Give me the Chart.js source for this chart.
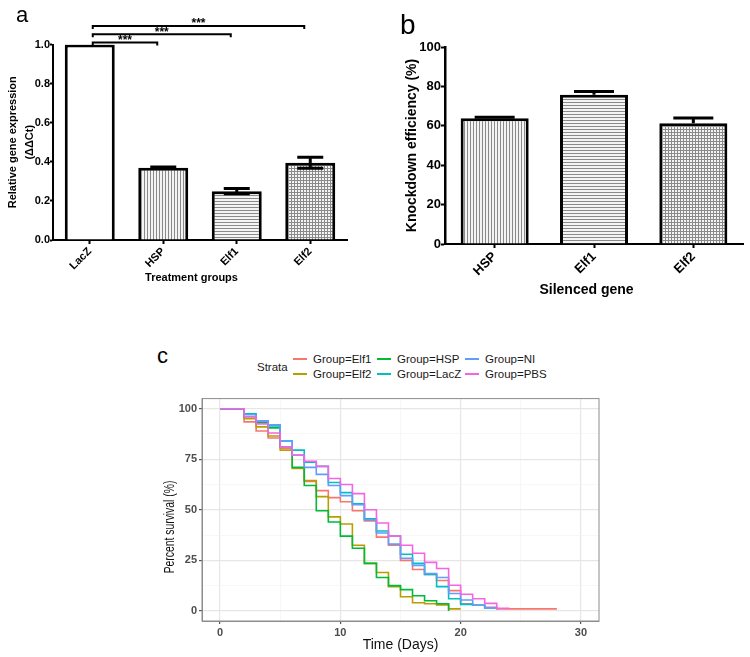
<!DOCTYPE html>
<html>
<head>
<meta charset="utf-8">
<script src="https://cdn.jsdelivr.net/npm/chart.js@4.4.0/dist/chart.umd.min.js"></script>
<style>
body { margin: 0; background: #fff; }
#fig { position: relative; width: 750px; height: 657px; overflow: hidden; font-family: 'Liberation Sans', Arial, sans-serif; }
#fig canvas { position: absolute; }
.panel-label { position: absolute; line-height: 1; color: #000; }
.leg-text { position: absolute; font-size: 11.5px; line-height: 14px; color: #1a1a1a; white-space: nowrap; }
.leg-key { position: absolute; width: 14px; height: 2px; }
</style>
</head>
<body>
<div id="fig">
    <canvas id="chartA" width="360" height="300" style="left:0;top:0"></canvas>
    <canvas id="chartB" width="370" height="310" style="left:380px;top:0"></canvas>
    <canvas id="chartC" width="470" height="267" style="left:150px;top:390px"></canvas>
    <div class="panel-label" style="left:16px;top:4px;font-size:22px">a</div>
    <div class="panel-label" style="left:400px;top:11px;font-size:28px">b</div>
    <div class="panel-label" style="left:157px;top:345px;font-size:22px">c</div>
    <div id="legendC"></div>
</div>
<script>
// panel a: relative expression
const groupsA = ['LacZ', 'HSP', 'Elf1', 'Elf2'];
const exprMean = [1.0, 0.37, 0.25, 0.395];
const exprErr = [0, 0.004, 0.014, 0.028];
const yTicksA = [0, 0.2, 0.4, 0.6, 0.8, 1.0];
const sigPairs = [[0, 1], [0, 2], [0, 3]];
const sigLabels = ['***', '***', '***'];

// panel b: knockdown efficiency
const genesB = ['HSP', 'Elf1', 'Elf2'];
const knockMean = [63.8, 75.7, 61.3];
const knockErr = [0.5, 1.7, 2.6];
const yTicksB = [0, 20, 40, 60, 80, 100];

// panel c: survival curves (one value per day, starting at day 0)
const survDays = [0, 1, 2, 3, 4, 5, 6, 7, 8, 9, 10, 11, 12, 13, 14, 15, 16, 17, 18, 19, 20, 21, 22, 23, 24, 25, 26, 27, 28];
const groupNames = ['Group=Elf1', 'Group=Elf2', 'Group=HSP', 'Group=LacZ', 'Group=NI', 'Group=PBS'];
const groupColors = ['#F8766D', '#B79F00', '#00BA38', '#00BFC4', '#619CFF', '#F564E3'];
const survElf1 = [100, 100, 93.5, 89, 85.5, 80.5, 77, 64, 59.5, 56, 54, 49.5, 44.5, 36.5, 32.5, 25, 20.5, 18, 15, 10, 3.5, 2.8, 1.8, 1, 1, 1, 1, 1, 1];
const survElf2 = [100, 100, 95, 91, 86.5, 79.5, 70.5, 64.5, 56.5, 46.5, 43, 32.5, 23.5, 19, 12, 7, 4, 3.5, 3, 1, 1];
const survHSP = [100, 100, 96, 93, 90.5, 81, 71, 62, 49.5, 44, 37, 31, 23.5, 16.5, 12.5, 10.5, 7.5, 5, 3.5, 0];
const survLacZ = [100, 100, 97.5, 94, 91.5, 84, 79.5, 73.5, 71.5, 63.5, 58.5, 53, 45.5, 39.5, 37, 28, 23.5, 18, 12, 6, 3.2, 2.8, 1.5, 0.8];
const survNI = [100, 100, 97, 94, 92, 84, 77, 71, 67.5, 62, 57, 52.5, 45, 38.5, 33, 26, 22.5, 18.5, 16.5, 8.6, 5.4, 2.8, 1.5, 0.8];
const survPBS = [100, 100, 96, 92.5, 88, 81, 77, 74, 71.5, 65.5, 62.5, 58, 50, 43.5, 37, 32.5, 28.5, 24, 21, 12.7, 8.2, 6, 3.7, 1.3, 0.8];
const survSeries = [survElf1, survElf2, survHSP, survLacZ, survNI, survPBS];
const xTicksC = [0, 10, 20, 30];
const yTicksC = [0, 25, 50, 75, 100];

const FONT = "'Liberation Sans', Arial, sans-serif";
Chart.defaults.font.family = FONT;
Chart.defaults.color = '#000';

// GraphPad-like hatch fills
function hatch(kind) {
    const c = document.createElement('canvas');
    c.width = 3; c.height = 3;
    const g = c.getContext('2d');
    g.fillStyle = '#f4f4f4';
    g.fillRect(0, 0, 3, 3);
    g.fillStyle = '#8a8a8a';
    if (kind !== 'h') g.fillRect(0, 0, 1, 3);
    if (kind !== 'v') g.fillRect(0, 0, 3, 1);
    return g.createPattern(c, 'repeat');
}

function errorBars(errs, cap, withLower) {
    return {
        id: 'errorBars',
        afterDatasetsDraw(chart) {
            const ctx = chart.ctx;
            const y = chart.scales.y;
            const means = chart.data.datasets[0].data;
            ctx.save();
            ctx.strokeStyle = '#000';
            ctx.lineWidth = 3;
            chart.getDatasetMeta(0).data.forEach((bar, i) => {
                const e = errs[i];
                if (!e) return;
                const top = y.getPixelForValue(means[i] + e);
                const bot = y.getPixelForValue(withLower ? means[i] - e : means[i]);
                ctx.beginPath();
                ctx.moveTo(bar.x, bot);
                ctx.lineTo(bar.x, top);
                ctx.moveTo(bar.x - cap / 2, top);
                ctx.lineTo(bar.x + cap / 2, top);
                if (withLower) {
                    ctx.moveTo(bar.x - cap / 2, bot);
                    ctx.lineTo(bar.x + cap / 2, bot);
                }
                ctx.stroke();
            });
            ctx.restore();
        }
    };
}

function freeText(items) {
    return {
        id: 'freeText',
        afterDraw(chart) {
            const ctx = chart.ctx;
            items.forEach(t => {
                ctx.save();
                ctx.translate(t.x, t.y);
                if (t.rotate) ctx.rotate(t.rotate);
                if (t.stretch) ctx.scale(t.stretch, 1);
                ctx.font = t.font;
                ctx.fillStyle = t.color || '#000';
                ctx.textAlign = 'center';
                ctx.textBaseline = 'middle';
                ctx.fillText(t.text, 0, 0);
                ctx.restore();
            });
        }
    };
}

const sigBrackets = {
    id: 'sigBrackets',
    afterDraw(chart) {
        const ctx = chart.ctx;
        const x = chart.scales.x;
        const top = chart.scales.y.getPixelForValue(yTicksA[yTicksA.length - 1]);
        ctx.save();
        ctx.lineWidth = 2;
        ctx.strokeStyle = '#000';
        ctx.fillStyle = '#000';
        ctx.font = 'bold 12px ' + FONT;
        ctx.textAlign = 'center';
        ctx.textBaseline = 'alphabetic';
        sigPairs.forEach(([a, b], k) => {
            const yy = top - 2 - k * 8.3;
            const x1 = x.getPixelForValue(a) + 3;
            const x2 = x.getPixelForValue(b) - 6;
            ctx.beginPath();
            ctx.moveTo(x1, yy + 3);
            ctx.lineTo(x1, yy);
            ctx.lineTo(x2, yy);
            ctx.lineTo(x2, yy + 3);
            ctx.stroke();
            ctx.fillText(sigLabels[k], (x1 + x2) / 2, yy + 1.5);
        });
        ctx.restore();
    }
};

const panelFrame = {
    id: 'panelFrame',
    afterDatasetsDraw(chart) {
        const {ctx, chartArea: a} = chart;
        ctx.save();
        ctx.strokeStyle = '#8c8c8c';
        ctx.lineWidth = 1;
        ctx.strokeRect(a.left, a.top, a.right - a.left, a.bottom - a.top);
        ctx.restore();
    }
};

function gpAxisX(tickSize, height) {
    return {
        grid: { display: true, offset: false, drawOnChartArea: false, tickLength: 4, tickWidth: 2, tickColor: '#000' },
        border: { color: '#000', width: 2 },
        ticks: { color: '#000', font: { size: tickSize, weight: 'bold' }, minRotation: 45, maxRotation: 45, padding: 1 },
        afterFit: s => { s.height = height; }
    };
}

// ---- panel a
new Chart(document.getElementById('chartA'), {
    type: 'bar',
    data: {
        labels: groupsA,
        datasets: [{
            data: exprMean,
            backgroundColor: ['#ffffff', hatch('v'), hatch('h'), hatch('grid')],
            borderColor: '#000',
            borderWidth: 3,
            barPercentage: 0.68,
            categoryPercentage: 1
        }]
    },
    options: {
        responsive: false,
        animation: false,
        layout: { padding: { top: 44.5, right: 13, left: 0, bottom: 0 } },
        plugins: { legend: { display: false }, tooltip: { enabled: false } },
        scales: {
            x: gpAxisX(11, 60),
            y: {
                min: 0, max: 1,
                afterBuildTicks: s => { s.ticks = yTicksA.map(v => ({ value: v })); },
                grid: { drawOnChartArea: false, tickLength: 3, tickWidth: 2, tickColor: '#000' },
                border: { color: '#000', width: 2 },
                ticks: { color: '#000', font: { size: 11, weight: 'bold' }, padding: 0, callback: v => v.toFixed(1) },
                title: {
                    display: true,
                    text: ['Relative gene expression', '(ΔΔCt)'],
                    font: { size: 11, weight: 'bold', lineHeight: 1.55 },
                    padding: { top: 4.8, bottom: 0 }
                },
                afterFit: s => { s.width = 53; }
            }
        }
    },
    plugins: [
        errorBars(exprErr, 26, true),
        sigBrackets,
        freeText([{ text: 'Treatment groups', x: 191.5, y: 278, font: 'bold 11px ' + FONT }])
    ]
});

// ---- panel b
new Chart(document.getElementById('chartB'), {
    type: 'bar',
    data: {
        labels: genesB,
        datasets: [{
            data: knockMean,
            backgroundColor: [hatch('v'), hatch('h'), hatch('grid')],
            borderColor: '#000',
            borderWidth: 3,
            barPercentage: 0.685,
            categoryPercentage: 1
        }]
    },
    options: {
        responsive: false,
        animation: false,
        layout: { padding: { top: 47, right: 7, left: 0, bottom: 0 } },
        plugins: { legend: { display: false }, tooltip: { enabled: false } },
        scales: {
            x: gpAxisX(13, 66),
            y: {
                min: 0, max: 100,
                afterBuildTicks: s => { s.ticks = yTicksB.map(v => ({ value: v })); },
                grid: { drawOnChartArea: false, tickLength: 4, tickWidth: 2, tickColor: '#000' },
                border: { color: '#000', width: 2.5 },
                ticks: { color: '#000', font: { size: 13, weight: 'bold' }, padding: 0 },
                title: {
                    display: true,
                    text: 'Knockdown efficiency (%)',
                    font: { size: 14, weight: 'bold' },
                    padding: { top: 23.6, bottom: 0 }
                },
                afterFit: s => { s.width = 65; }
            }
        }
    },
    plugins: [
        errorBars(knockErr, 40, false),
        freeText([{ text: 'Silenced gene', x: 206.5, y: 290, font: 'bold 14px ' + FONT }])
    ]
});

// ---- panel c
function withMinor(ticks) {
    const out = [];
    ticks.forEach((t, i) => {
        out.push(t);
        if (i < ticks.length - 1) out.push((t + ticks[i + 1]) / 2);
    });
    return out;
}

function ggAxis(major, min, max, size) {
    return {
        type: 'linear',
        min: min, max: max,
        afterBuildTicks: s => { s.ticks = withMinor(major).map(v => ({ value: v })); },
        grid: {
            color: c => major.includes(c.tick.value) ? '#e6e6e6' : '#f3f3f3',
            lineWidth: c => major.includes(c.tick.value) ? 1.2 : 0.7,
            tickColor: c => major.includes(c.tick.value) ? '#555' : 'rgba(0,0,0,0)',
            tickLength: 3
        },
        border: { color: '#8c8c8c', width: 1 },
        ticks: {
            autoSkip: false, maxRotation: 0, color: '#4d4d4d', padding: 2,
            font: { size: 11, weight: 'bold' },
            callback: v => major.includes(v) ? String(v) : ''
        },
        afterFit: size
    };
}

const xAxisC = ggAxis(xTicksC, -1.5, 31.5, s => { s.height = 36; });
xAxisC.title = { display: true, text: 'Time (Days)', color: '#111', font: { size: 14 }, padding: { top: 0, bottom: 3.6 } };
const yAxisC = ggAxis(yTicksC, -5, 105, s => { s.width = 52; });

new Chart(document.getElementById('chartC'), {
    type: 'line',
    data: {
        datasets: survSeries.map((vals, i) => ({
            label: groupNames[i],
            data: vals.map((v, j) => ({ x: survDays[j], y: v })),
            borderColor: groupColors[i],
            borderWidth: 1.6,
            pointRadius: 0,
            stepped: 'before',
            fill: false,
            order: survSeries.length - i
        }))
    },
    options: {
        responsive: false,
        animation: false,
        layout: { padding: { top: 6, right: 21, left: 0, bottom: 0 } },
        plugins: { legend: { display: false }, tooltip: { enabled: false } },
        scales: { x: xAxisC, y: yAxisC }
    },
    plugins: [
        panelFrame,
        freeText([{ text: 'Percent survival (%)', x: 20, y: 137, rotate: -Math.PI / 2, stretch: 0.74, color: '#111', font: '14px ' + FONT }])
    ]
});

// legend for panel c (ggplot style: title left, two rows filled by column)
const legend = document.getElementById('legendC');
const legCols = [293, 377, 465];
const legRows = [359, 374];
legend.innerHTML = '<div class="leg-text" style="left:257px;top:360px">Strata</div>';
groupNames.forEach((name, i) => {
    const x = legCols[Math.floor(i / 2)];
    const y = legRows[i % 2];
    legend.innerHTML += `<div class="leg-key" style="left:${x}px;top:${y - 1}px;background:${groupColors[i]}"></div>` +
        `<div class="leg-text" style="left:${x + 20}px;top:${y - 7}px">${name}</div>`;
});
</script>
</body>
</html>
